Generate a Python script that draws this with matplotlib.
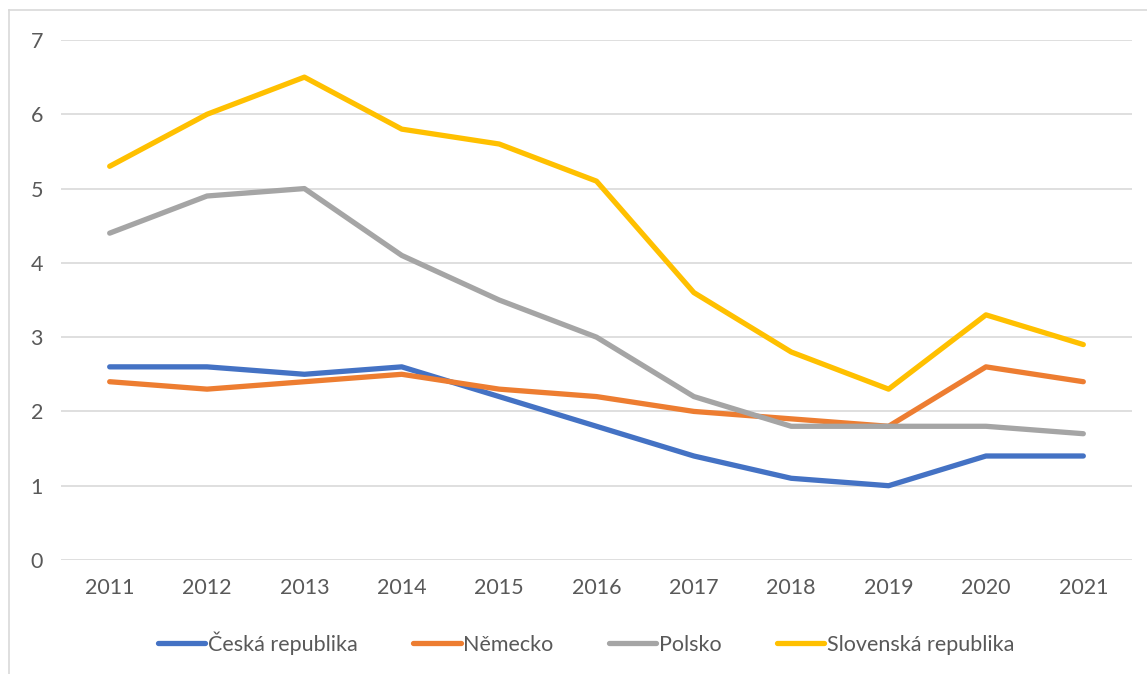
import matplotlib.pyplot as plt
from matplotlib.lines import Line2D

years = ['2011', '2012', '2013', '2014', '2015', '2016', '2017', '2018', '2019', '2020', '2021']
cesko = [2.6, 2.6, 2.5, 2.6, 2.2, 1.8, 1.4, 1.1, 1.0, 1.4, 1.4]
nemecko = [2.4, 2.3, 2.4, 2.5, 2.3, 2.2, 2.0, 1.9, 1.8, 2.6, 2.4]
polsko = [4.4, 4.9, 5.0, 4.1, 3.5, 3.0, 2.2, 1.8, 1.8, 1.8, 1.7]
slovensko = [5.3, 6.0, 6.5, 5.8, 5.6, 5.1, 3.6, 2.8, 2.3, 3.3, 2.9]

series = [
    ('Česká republika', cesko, '#4472C4'),
    ('Německo', nemecko, '#ED7D31'),
    ('Polsko', polsko, '#A5A5A5'),
    ('Slovenská republika', slovensko, '#FFC000'),
]

plt.rcParams['font.family'] = ['Lato', 'DejaVu Sans']
txt = '#595959'
fs = 15.5

W, H = 1147, 674
fig = plt.figure(figsize=(W / 100, H / 100), dpi=100)
ax = fig.add_axes([61 / W, 1 - 560 / H, (1132 - 61) / W, (560 - 40) / H])

x = range(len(years))
for name, vals, col in series:
    ax.plot(x, vals, color=col, lw=3.8, label=name, solid_capstyle='round', solid_joinstyle='round')

ax.set_xlim(-0.5, len(years) - 0.5)
ax.set_ylim(0, 7)
ax.set_yticks(range(8))
ax.set_xticks(list(x))
ax.set_xticklabels(years)
ax.grid(axis='y', color='#D9D9D9', lw=1.2)
ax.set_axisbelow(True)
for s in ax.spines.values():
    s.set_visible(False)
ax.tick_params(axis='both', length=0, labelsize=fs, labelcolor=txt)
ax.tick_params(axis='x', pad=13)
ax.tick_params(axis='y', pad=13)

# chart border (only top and left visible)
fig.add_artist(Line2D([9 / W, 9 / W], [0, 1 - 10 / H], color='#D9D9D9', lw=1.2))
fig.add_artist(Line2D([9 / W, 1], [1 - 10 / H, 1 - 10 / H], color='#D9D9D9', lw=1.2))

fig.legend(loc='center', bbox_to_anchor=(586 / W, 1 - 643 / H), ncol=4, frameon=False,
           fontsize=fs, labelcolor=txt, handlelength=2.2, handletextpad=0.1,
           columnspacing=2.6)

fig.savefig('out.png', dpi=100)
